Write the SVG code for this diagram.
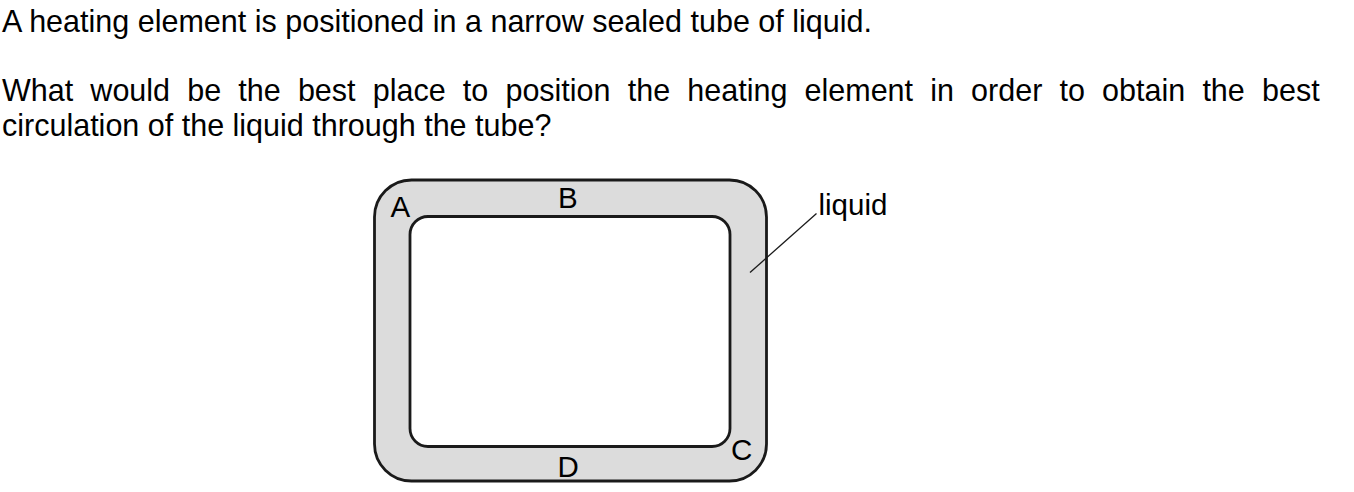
<svg xmlns="http://www.w3.org/2000/svg" width="1354" height="492" viewBox="0 0 1354 492">
<style>
.t{font-family:"Liberation Sans",Arial,sans-serif;fill:#000;}
.q{font-size:30.5px;}
.lbl{font-size:29.5px;}
.tube{stroke:#1a1a1a;stroke-width:2.8;}
</style>
<rect width="1354" height="492" fill="#fff"/>
<g id="question">
<text class="t q" x="2" y="32" textLength="870" lengthAdjust="spacing">A heating element is positioned in a narrow sealed tube of liquid.</text>
<text class="t q" x="2" y="101" word-spacing="8.7">What would be the best place to position the heating element in order to obtain the best</text>
<text class="t q" x="2" y="135.5">circulation of the liquid through the tube?</text>
</g>
<g id="tube">
<rect class="tube" x="374.5" y="180" width="392" height="301" rx="37" ry="37" fill="#dcdcdc"/>
<rect class="tube" x="410" y="216.5" width="320" height="230" rx="18" ry="18" fill="#fff"/>
</g>
<g id="labels">
<text class="t lbl" x="390.5" y="217">A</text>
<text class="t lbl" x="558" y="208">B</text>
<text class="t lbl" x="731" y="460">C</text>
<text class="t lbl" x="557.5" y="476.5">D</text>
</g>
<g id="connectors">
<line x1="750" y1="272.5" x2="816.5" y2="213.5" stroke="#1a1a1a" stroke-width="1.3"/>
</g>
<g id="liquid-label">
<text class="t lbl" x="818.5" y="215">liquid</text>
</g>
</svg>
